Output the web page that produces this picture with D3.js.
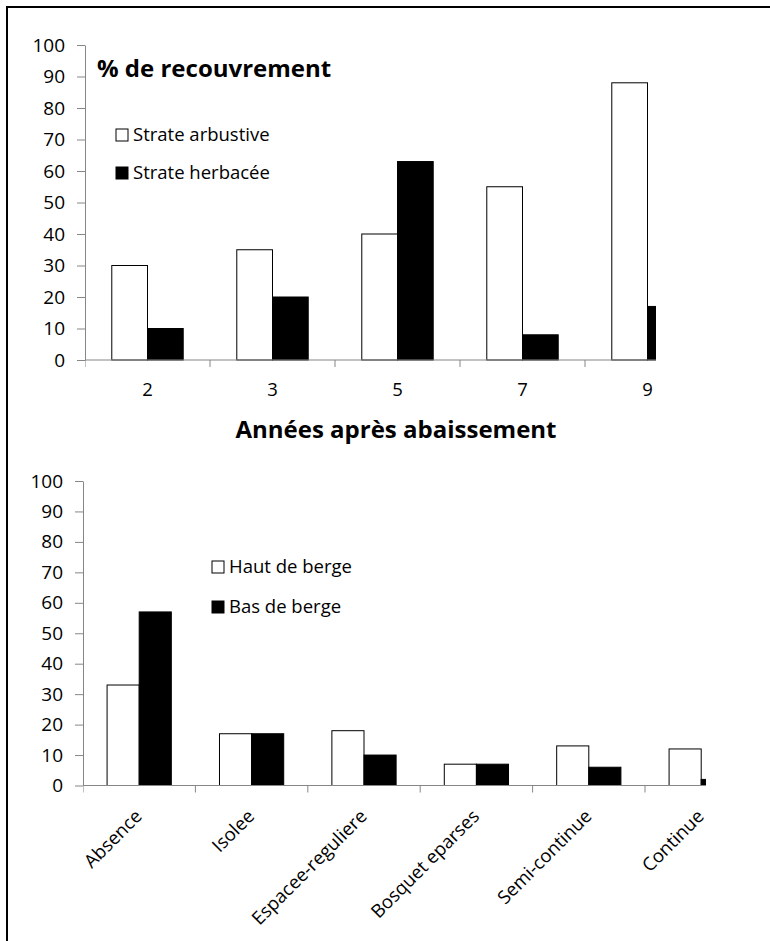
<!DOCTYPE html>
<html>
<head>
  <meta charset="utf-8">
  <title>Recouvrement</title>
  <style>
    body { margin: 0; background: #fff; }
    text { font-family: 'Open Sans', sans-serif; fill: #000; }
  </style>
</head>
<body>
  <script src="https://cdn.jsdelivr.net/npm/d3@7"></script>
  <script>
    const width = 770;
    const height = 941;

    // top chart
    const years = ['2', '3', '5', '7', '9'];
    const arbustive = [30, 35, 40, 55, 88];
    const herbacee = [10, 20, 63, 8, 17];
    const topSeries = ['Strate arbustive', 'Strate herbacée'];

    // bottom chart
    const classes = ['Absence', 'Isolee', 'Espacee-reguliere', 'Bosquet eparses', 'Semi-continue', 'Continue'];
    const hautBerge = [33, 17, 18, 7, 13, 12];
    const basBerge = [57, 17, 10, 7, 6, 2];
    const bottomSeries = ['Haut de berge', 'Bas de berge'];

    const yTicks = [0, 10, 20, 30, 40, 50, 60, 70, 80, 90, 100];
    const fills = ['#fff', '#000'];
    const axisColor = '#868686';
    const labelSize = 18.5;

    const svg = d3.select('body')
      .append('svg')
      .attr('width', width)
      .attr('height', height);

    // frame (cut off on the right and bottom)
    svg.append('path')
      .attr('d', `M7,${height} L7,7 L${width},7`)
      .attr('fill', 'none')
      .attr('stroke', '#000')
      .attr('stroke-width', 2);

    const drawChart = (g, opts) => {
      const x0 = d3.scaleBand()
        .domain(opts.cats)
        .range([opts.left, opts.left + opts.step * opts.cats.length]);
      const x1 = d3.scaleBand()
        .domain([0, 1])
        .range([0, x0.bandwidth()])
        .paddingOuter(0.75);
      const y = d3.scaleLinear().domain([0, 100]).range([opts.bottom, opts.top]);

      g.append('clipPath').attr('id', opts.id)
        .append('rect')
        .attr('x', opts.left)
        .attr('y', 0)
        .attr('width', opts.clipRight - opts.left)
        .attr('height', height);

      // y axis
      const yAxis = g.append('g')
        .attr('transform', `translate(${opts.left},0)`)
        .call(d3.axisLeft(y).tickValues(yTicks).tickSize(8).tickPadding(12).tickSizeOuter(0));
      yAxis.select('.domain').attr('stroke', axisColor);
      yAxis.selectAll('.tick line').attr('stroke', axisColor);
      yAxis.selectAll('.tick text')
        .attr('font-family', 'Open Sans')
        .attr('font-size', 19)
        .attr('fill', '#111');

      // bars
      const plot = g.append('g').attr('clip-path', `url(#${opts.id})`);
      opts.values.forEach((vals, s) => {
        plot.append('g')
          .selectAll('rect')
          .data(vals)
          .join('rect')
          .attr('x', (d, i) => x0(opts.cats[i]) + x1(s))
          .attr('y', (d) => y(d))
          .attr('width', x1.bandwidth())
          .attr('height', (d) => y(0) - y(d))
          .attr('fill', fills[s])
          .attr('stroke', '#000')
          .attr('stroke-width', 1);
      });

      // x axis
      plot.append('line')
        .attr('x1', opts.left)
        .attr('x2', opts.left + opts.step * opts.cats.length)
        .attr('y1', y(0))
        .attr('y2', y(0))
        .attr('stroke', axisColor);
      plot.append('g')
        .selectAll('line')
        .data(opts.cats)
        .join('line')
        .attr('x1', (d) => x0(d))
        .attr('x2', (d) => x0(d))
        .attr('y1', y(0))
        .attr('y2', y(0) + 7)
        .attr('stroke', axisColor);

      // legend
      const leg = g.append('g');
      opts.series.forEach((name, s) => {
        const ly = opts.legendY + s * opts.legendGap;
        leg.append('rect')
          .attr('x', opts.legendX)
          .attr('y', ly - 12)
          .attr('width', 12)
          .attr('height', 12)
          .attr('fill', fills[s])
          .attr('stroke', '#000');
        leg.append('text')
          .attr('x', opts.legendX + 17)
          .attr('y', ly)
          .attr('font-size', labelSize)
          .text(name);
      });

      return { x0, y };
    };

    const topChart = drawChart(svg.append('g'), {
      id: 'clip-top',
      cats: years,
      values: [arbustive, herbacee],
      series: topSeries,
      left: 85,
      step: 125,
      top: 45,
      bottom: 360,
      clipRight: 656,
      legendX: 116,
      legendY: 141,
      legendGap: 38
    });

    svg.append('g')
      .selectAll('text')
      .data(years)
      .join('text')
      .attr('x', (d) => topChart.x0(d) + topChart.x0.bandwidth() / 2)
      .attr('y', 396)
      .attr('text-anchor', 'middle')
      .attr('font-size', labelSize)
      .attr('fill', '#111')
      .text((d) => d);

    svg.append('text')
      .attr('x', 97)
      .attr('y', 77)
      .attr('font-size', 24)
      .attr('font-weight', 'bold')
      .text('% de recouvrement');

    svg.append('text')
      .attr('x', 396)
      .attr('y', 438)
      .attr('text-anchor', 'middle')
      .attr('font-size', 24)
      .attr('font-weight', 'bold')
      .text('Années après abaissement');

    const bottomChart = drawChart(svg.append('g'), {
      id: 'clip-bottom',
      cats: classes,
      values: [hautBerge, basBerge],
      series: bottomSeries,
      left: 83,
      step: 112.4,
      top: 481,
      bottom: 785.5,
      clipRight: 706,
      legendX: 212,
      legendY: 573,
      legendGap: 40
    });

    svg.append('g')
      .selectAll('text')
      .data(classes)
      .join('text')
      .attr('transform', (d) => {
        const cx = bottomChart.x0(d) + bottomChart.x0.bandwidth() / 2 + 4;
        return `translate(${cx},${785.5 + 32}) rotate(-45)`;
      })
      .attr('text-anchor', 'end')
      .attr('font-size', labelSize)
      .attr('fill', '#111')
      .text((d) => d);
  </script>
</body>
</html>
